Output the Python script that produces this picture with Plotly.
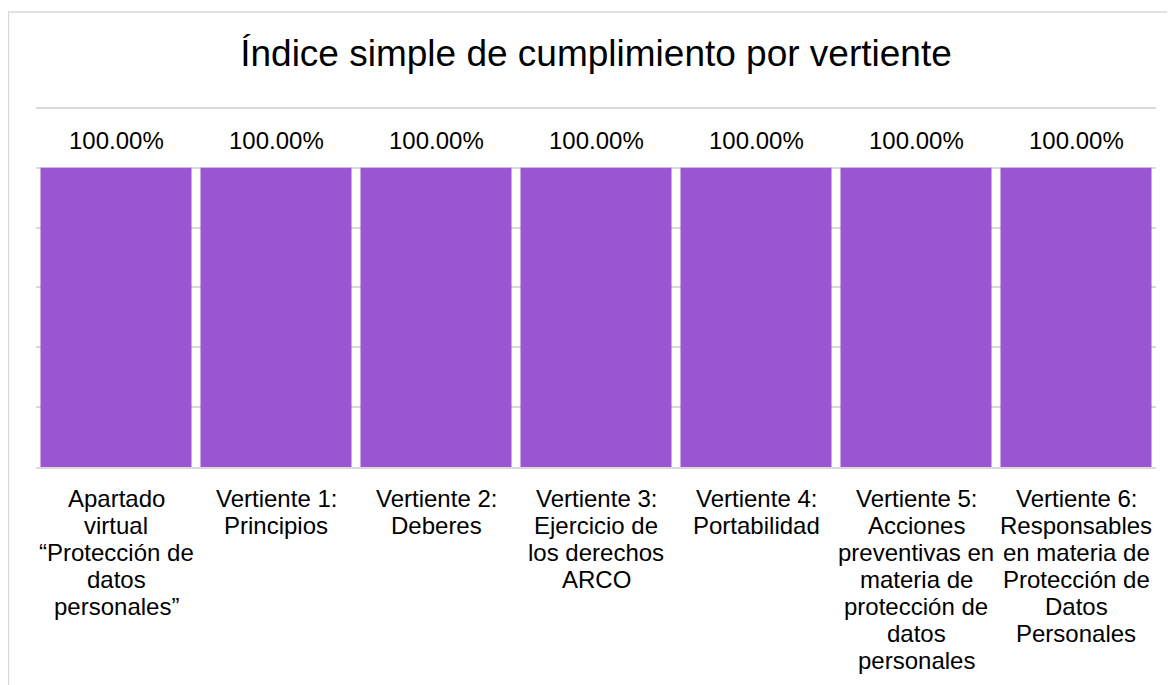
import plotly.graph_objects as go

title_text = "Índice simple de cumplimiento por vertiente"
categories = [
    "Apartado<br>virtual<br>“Protección de<br>datos<br>personales”",
    "Vertiente 1:<br>Principios",
    "Vertiente 2:<br>Deberes",
    "Vertiente 3:<br>Ejercicio de<br>los derechos<br>ARCO",
    "Vertiente 4:<br>Portabilidad",
    "Vertiente 5:<br>Acciones<br>preventivas en<br>materia de<br>protección de<br>datos<br>personales",
    "Vertiente 6:<br>Responsables<br>en materia de<br>Protección de<br>Datos<br>Personales",
]
values = [1.0, 1.0, 1.0, 1.0, 1.0, 1.0, 1.0]
y_ticks = [0, 0.2, 0.4, 0.6, 0.8, 1.0, 1.2]

OFF = 8  # page body margin
W, H = 1175 - OFF, 685 - OFF
ML, MT = 36 - OFF, 94
MR, MB = 19, 218
PW, PH = W - ML - MR, H - MT - MB
Y_MAX = 1.22

FONT = "Liberation Sans, Arial, sans-serif"
BAR_COLOR = "#9955D2"
GRID = "#D9D9D9"

fig = go.Figure()
fig.add_trace(go.Bar(
    x=categories, y=values,
    marker=dict(color=BAR_COLOR, line=dict(width=0)),
    hoverinfo="skip",
))

annotations = []
for c, v in zip(categories, values):
    annotations.append(dict(
        x=c, y=v, xref="x", yref="y", text=f"{v:.2%}", showarrow=False,
        yanchor="middle", yshift=27, font=dict(family=FONT, size=24, color="#000000"),
    ))
    for i, line in enumerate(c.split("<br>")):
        annotations.append(dict(
            x=c, y=0, xref="x", yref="y", text=line, showarrow=False,
            yanchor="middle", yshift=-(31 + 27 * i),
            font=dict(family=FONT, size=24, color="#000000"),
        ))

def fx(p):
    return (p - ML) / PW

def fy(p):
    return (H - MB - p) / PH

shapes = [
    dict(type="line", xref="paper", yref="paper", x0=fx(0.5), x1=fx(0.5),
         y0=fy(H + 10), y1=fy(12 - OFF), line=dict(color=GRID, width=1.5)),
    dict(type="line", xref="paper", yref="paper", x0=fx(0), x1=fx(W + 10),
         y0=fy(12 - OFF), y1=fy(12 - OFF), line=dict(color=GRID, width=1.5)),
]

fig.update_layout(
    width=W, height=H,
    margin=dict(l=ML, r=MR, t=MT, b=MB, pad=0),
    paper_bgcolor="white", plot_bgcolor="white",
    bargap=0.056,
    showlegend=False,
    title=dict(text=title_text, x=(ML + PW / 2) / W, xanchor="center",
               y=1 - (53 - OFF) / H, yanchor="middle", yref="container",
               font=dict(family=FONT, size=37, color="#000000")),
    xaxis=dict(showticklabels=False, showgrid=False, showline=True,
               linecolor=GRID, linewidth=1.5, ticks="", zeroline=False),
    yaxis=dict(range=[0, Y_MAX], tickvals=y_ticks, showticklabels=False,
               showgrid=True, gridcolor=GRID, gridwidth=1.5, zeroline=False,
               showline=False, ticks=""),
    annotations=annotations,
    shapes=shapes,
    font=dict(family=FONT),
)

fig.write_html("out.html")
